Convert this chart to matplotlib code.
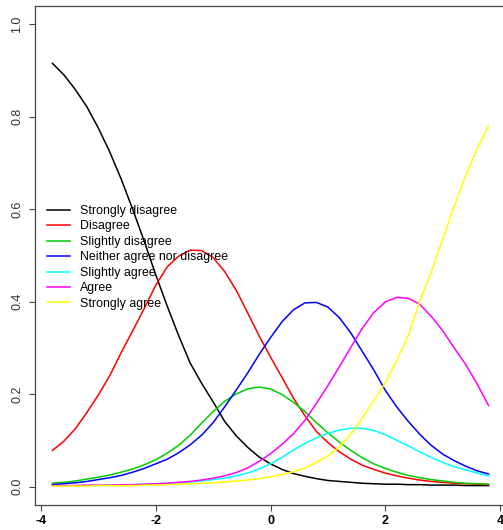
import matplotlib
matplotlib.use("Agg")
import matplotlib.pyplot as plt

# ability grid (theta) and category response curves
theta = [-3.8, -3.6, -3.4, -3.2, -3.0, -2.8, -2.6, -2.4, -2.2, -2.0,
         -1.8, -1.6, -1.4, -1.2, -1.0, -0.8, -0.6, -0.4, -0.2, 0.0,
         0.2, 0.4, 0.6, 0.8, 1.0, 1.2, 1.4, 1.6, 1.8, 2.0,
         2.2, 2.4, 2.6, 2.8, 3.0, 3.2, 3.4, 3.6, 3.8]

strongly_disagree = [0.915, 0.890, 0.858, 0.821, 0.775, 0.723, 0.664, 0.599, 0.530, 0.458,
                     0.390, 0.326, 0.267, 0.223, 0.183, 0.141, 0.110, 0.085, 0.064, 0.049,
                     0.037, 0.028, 0.022, 0.017, 0.013, 0.011, 0.009, 0.007, 0.006, 0.005,
                     0.005, 0.004, 0.004, 0.003, 0.003, 0.003, 0.002, 0.002, 0.002]
disagree = [0.078, 0.098, 0.125, 0.160, 0.198, 0.240, 0.290, 0.337, 0.385, 0.435,
            0.475, 0.498, 0.511, 0.510, 0.495, 0.465, 0.425, 0.376, 0.326, 0.280,
            0.236, 0.191, 0.153, 0.119, 0.095, 0.075, 0.059, 0.046, 0.037, 0.029,
            0.023, 0.018, 0.014, 0.011, 0.009, 0.007, 0.006, 0.005, 0.004]
slightly_disagree = [0.007, 0.009, 0.012, 0.016, 0.020, 0.025, 0.031, 0.038, 0.047, 0.058,
                     0.072, 0.089, 0.111, 0.137, 0.162, 0.184, 0.200, 0.211, 0.215, 0.211,
                     0.199, 0.182, 0.162, 0.138, 0.116, 0.096, 0.078, 0.062, 0.049, 0.039,
                     0.031, 0.024, 0.019, 0.015, 0.012, 0.009, 0.007, 0.006, 0.005]
neither = [0.004, 0.006, 0.008, 0.011, 0.015, 0.019, 0.024, 0.031, 0.039, 0.049,
           0.059, 0.073, 0.090, 0.111, 0.138, 0.172, 0.208, 0.245, 0.285, 0.322,
           0.356, 0.382, 0.397, 0.398, 0.388, 0.365, 0.332, 0.292, 0.252, 0.208,
           0.172, 0.141, 0.113, 0.089, 0.070, 0.056, 0.044, 0.034, 0.027]
slightly_agree = [0.001, 0.001, 0.002, 0.002, 0.002, 0.003, 0.003, 0.004, 0.005, 0.006,
                  0.007, 0.008, 0.010, 0.012, 0.015, 0.018, 0.023, 0.029, 0.038, 0.049,
                  0.063, 0.079, 0.093, 0.105, 0.115, 0.122, 0.126, 0.126, 0.121, 0.112,
                  0.100, 0.088, 0.075, 0.063, 0.052, 0.043, 0.036, 0.029, 0.023]
agree = [0.002, 0.002, 0.002, 0.003, 0.003, 0.003, 0.004, 0.004, 0.005, 0.006,
         0.007, 0.009, 0.011, 0.014, 0.018, 0.023, 0.030, 0.040, 0.054, 0.071,
         0.091, 0.114, 0.143, 0.180, 0.218, 0.259, 0.301, 0.342, 0.376, 0.399,
         0.409, 0.407, 0.394, 0.368, 0.337, 0.300, 0.264, 0.222, 0.175]
strongly_agree = [0.001, 0.001, 0.001, 0.001, 0.002, 0.002, 0.002, 0.002, 0.003, 0.003,
                  0.004, 0.005, 0.006, 0.007, 0.008, 0.010, 0.012, 0.014, 0.017, 0.021,
                  0.026, 0.032, 0.040, 0.052, 0.066, 0.086, 0.113, 0.148, 0.186, 0.224,
                  0.272, 0.326, 0.400, 0.463, 0.535, 0.605, 0.672, 0.730, 0.780]

labels = ["Strongly disagree", "Disagree", "Slightly disagree",
          "Neither agree nor disagree", "Slightly agree", "Agree", "Strongly agree"]
series = [strongly_disagree, disagree, slightly_disagree, neither,
          slightly_agree, agree, strongly_agree]
# R default palette 1..7
colors = ["black", "red", "#00CD00", "blue", "cyan", "magenta", "yellow"]

x_ticks = [-4, -2, 0, 2, 4]
y_ticks = [0.0, 0.2, 0.4, 0.6, 0.8, 1.0]

plt.rcParams["font.family"] = ["Liberation Sans", "DejaVu Sans"]

fig = plt.figure(figsize=(5.03, 5.30), dpi=100)
ax = fig.add_axes([35 / 503, 25 / 530, 471 / 503, 499.5 / 530])

for ys, c, lab in zip(series, colors, labels):
    ax.plot(theta, ys, color=c, lw=1.1, label=lab)

ax.set_xlim(-4.104, 4.104)
ax.set_ylim(-0.04, 1.04)
ax.set_xticks(x_ticks)
ax.set_xticklabels([str(t) for t in x_ticks], fontsize=9, fontweight="bold")
ax.set_yticks(y_ticks)
ax.set_yticklabels([f"{t:.1f}" for t in y_ticks], fontsize=9, rotation=90,
                   va="center")
ax.tick_params(axis="both", direction="out", length=4.5, width=0.8, colors="#444444")
ax.tick_params(axis="x", pad=2.5, labelcolor="black")
ax.tick_params(axis="y", pad=4, labelcolor="#333333")
for sp in ax.spines.values():
    sp.set_color("#444444")
    sp.set_linewidth(0.9)

leg = ax.legend(loc="upper left", bbox_to_anchor=(47 / 503, 1 - 205 / 530),
                bbox_transform=fig.transFigure, frameon=False, fontsize=8.9,
                borderpad=0, borderaxespad=0, handlelength=1.9,
                handletextpad=0.8, labelspacing=0.28)
for line in leg.get_lines():
    line.set_linewidth(1.1)

fig.savefig("out.png", dpi=100)
